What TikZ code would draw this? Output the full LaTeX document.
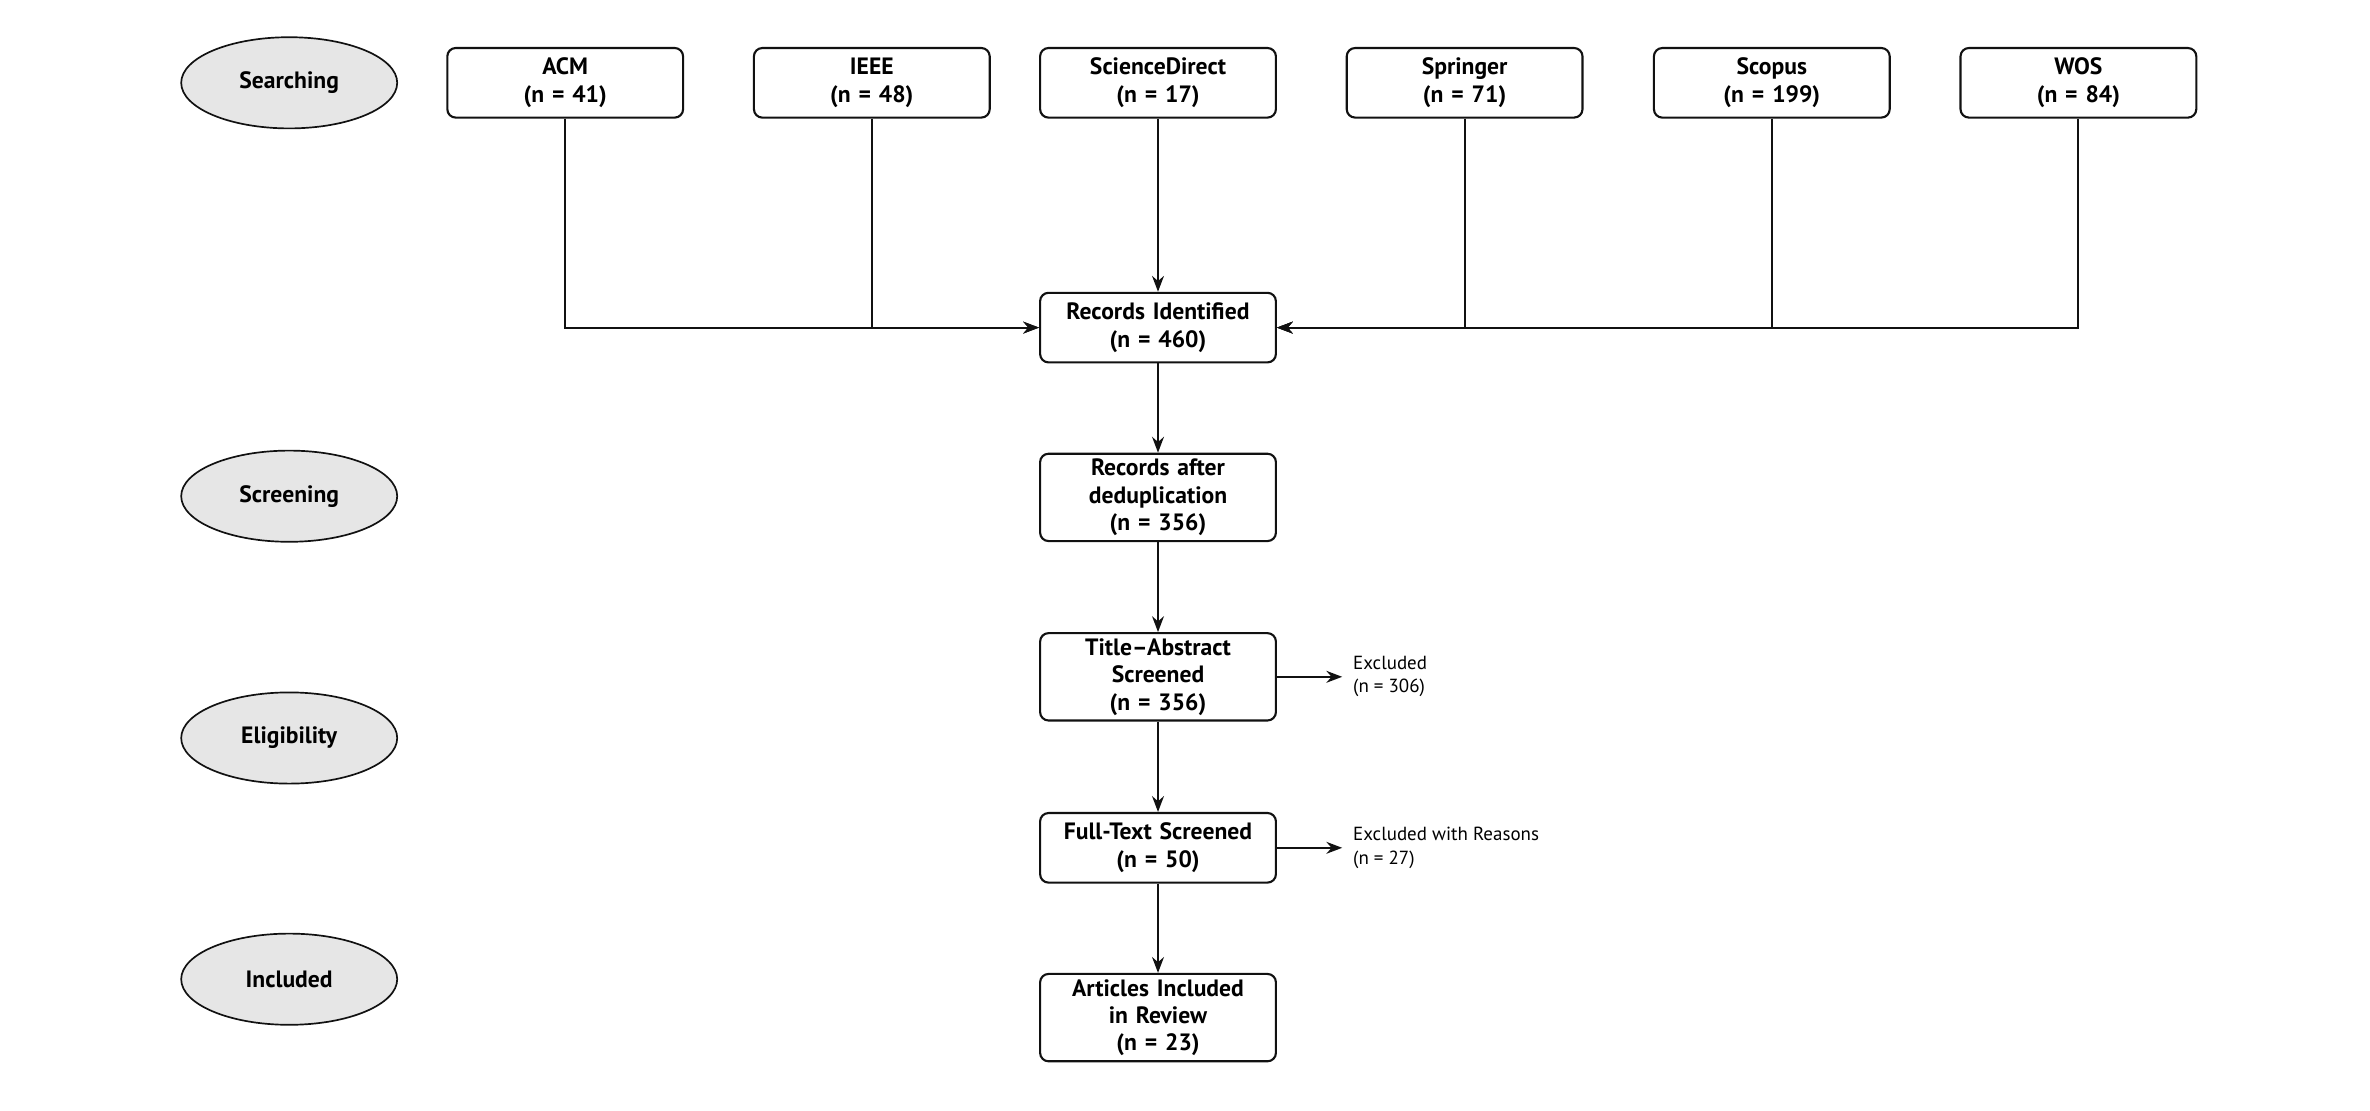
\documentclass[tikz,border=0pt]{standalone}
\usepackage{fontspec}
\setmainfont{PT Sans}
\usetikzlibrary{arrows.meta, shapes.geometric}
\definecolor{linecol}{HTML}{111111}
\definecolor{phasecol}{HTML}{E6E6E6}

\begin{document}
\begin{tikzpicture}[
    >=Stealth,
    every node/.style={font=\fontsize{11.2pt}{13pt}\selectfont},
    phase/.style={
        ellipse, draw=linecol, fill=phasecol, line width=0.8pt,
        minimum width=3.6cm, minimum height=1.52cm, inner sep=0pt,
        font=\fontsize{11.2pt}{13pt}\selectfont\bfseries,
    },
    srcbox/.style={
        draw=linecol, rounded corners=4pt, line width=1pt,
        align=center, font=\fontsize{11.2pt}{13pt}\selectfont\bfseries,
        text width=3.7cm, minimum width=3.93cm, minimum height=1.16cm,
        inner xsep=0pt, inner ysep=2.5pt,
    },
    flowbox/.style={srcbox},
    arr/.style={->, line width=1pt, draw=linecol},
    excl/.style={font=\small, align=left, anchor=west, inner xsep=5pt},
]
\useasboundingbox (0, 0) rectangle (39.5, -18.5);

% === Phase labels (left column) ===
\node[phase] (searching)   at (4.82, -1.38)  {Searching};
\node[phase] (screening)   at (4.82, -8.27)  {Screening};
\node[phase] (eligibility) at (4.82, -12.30) {Eligibility};
\node[phase] (included)    at (4.82, -16.32) {Included};

% === Databases (top row) ===
\node[srcbox] (acm)      at (9.42, -1.38)  {ACM\\(n = 41)};
\node[srcbox] (ieee)     at (14.53, -1.38) {IEEE\\(n = 48)};
\node[srcbox] (sd)       at (19.30, -1.38) {ScienceDirect\\(n = 17)};
\node[srcbox] (springer) at (24.41, -1.38) {Springer\\(n = 71)};
\node[srcbox] (scopus)   at (29.53, -1.38) {Scopus\\(n = 199)};
\node[srcbox] (wos)      at (34.64, -1.38) {WOS\\(n = 84)};

% === Main flow (centre column) ===
\node[flowbox] (rid)   at (19.30, -5.46)  {Records Identified\\(n = 460)};
\node[flowbox] (dedup) at (19.30, -8.29)  {Records after\\deduplication\\(n = 356)};
\node[flowbox] (tas)   at (19.30, -11.28) {Title--Abstract\\Screened\\(n = 356)};
\node[flowbox] (fts)   at (19.30, -14.13) {Full-Text Screened\\(n = 50)};
\node[flowbox] (incl)  at (19.30, -16.96) {Articles Included\\in Review\\(n = 23)};

% === Exclusions ===
\node[excl] (excl1) at (22.37, -11.28) {Excluded\\(n = 306)};
\node[excl] (excl2) at (22.37, -14.13) {Excluded with Reasons\\(n = 27)};

% === Database arrows ===
\draw[arr] (acm.south) |- (rid.west);
\draw[arr] (ieee.south) |- (rid.west);
\draw[arr] (sd.south) -- (rid.north);
\draw[arr] (springer.south) |- (rid.east);
\draw[arr] (scopus.south) |- (rid.east);
\draw[arr] (wos.south) |- (rid.east);

% === Flow arrows ===
\draw[arr] (rid) -- (dedup);
\draw[arr] (dedup) -- (tas);
\draw[arr] (tas) -- (fts);
\draw[arr] (fts) -- (incl);

% Exclusion arrows
\draw[arr] (tas.east) -- (excl1.west);
\draw[arr] (fts.east) -- (excl2.west);

\end{tikzpicture}
\end{document}
